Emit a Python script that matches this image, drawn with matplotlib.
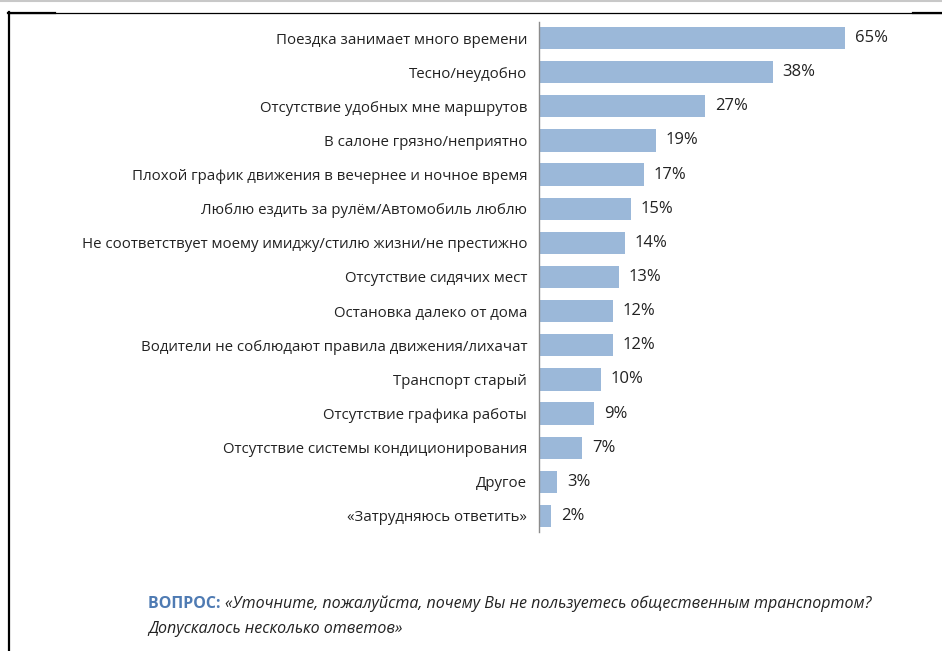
import matplotlib
matplotlib.use("Agg")
import matplotlib.pyplot as plt
from matplotlib.lines import Line2D

# ---- Data ----
reasons = [
    "Поездка занимает много времени",
    "Тесно/неудобно",
    "Отсутствие удобных мне маршрутов",
    "В салоне грязно/неприятно",
    "Плохой график движения в вечернее и ночное время",
    "Люблю ездить за рулём/Автомобиль люблю",
    "Не соответствует моему имиджу/стилю жизни/не престижно",
    "Отсутствие сидячих мест",
    "Остановка далеко от дома",
    "Водители не соблюдают правила движения/лихачат",
    "Транспорт старый",
    "Отсутствие графика работы",
    "Отсутствие системы кондиционирования",
    "Другое",
    "«Затрудняюсь ответить»",
]
shares = [65, 38, 27, 19, 17, 15, 14, 13, 12, 12, 10, 9, 7, 3, 2]
value_labels = [f"{v}%" for v in shares]

question_head = "ВОПРОС:"
question_body = "«Уточните, пожалуйста, почему Вы не пользуетесь общественным транспортом?"
question_tail = "Допускалось несколько ответов»"

BAR_COLOR = "#9bb8d9"
TEXT_COLOR = "#222222"
HEAD_COLOR = "#4f7bb3"
FONT = ["Open Sans", "DejaVu Sans"]

W, H = 942, 651
fig = plt.figure(figsize=(W / 100, H / 100), dpi=100)
fig.patch.set_facecolor("white")

# axes spans from the baseline to the (shortened) end of the longest bar
ax = fig.add_axes([539 / W, 1 - 532 / H, (845 - 539) / W, (532 - 22) / H])
ax.set_facecolor("none")

ypos = list(range(len(reasons)))
ax.barh(ypos, shares, height=0.65, color=BAR_COLOR, edgecolor="none")
ax.set_xlim(0, 49.75)
ax.set_ylim(len(reasons) - 0.53, -0.47)

for s in ["top", "right", "bottom"]:
    ax.spines[s].set_visible(False)
ax.spines["left"].set_color("#8c8c8c")
ax.spines["left"].set_linewidth(1.0)
ax.set_xticks([])
ax.set_yticks(ypos)
ax.set_yticklabels(reasons, fontsize=10.8, color=TEXT_COLOR, family=FONT)
ax.tick_params(axis="y", length=0, pad=8.6)

xmax = ax.get_xlim()[1]
for y, v, lab in zip(ypos, shares, value_labels):
    ax.annotate(lab, xy=(min(v, xmax), y), xytext=(7, 0), textcoords="offset points",
                va="center", ha="left", fontsize=12, color=TEXT_COLOR,
                family=FONT, annotation_clip=False)

# footnote with the survey question
t = fig.text(148 / W, 1 - 604 / H, question_head + " ", fontsize=11.5, fontweight="bold",
             color=HEAD_COLOR, family=FONT, va="center", ha="left")
fig.canvas.draw()
bb = t.get_window_extent()
fig.text(bb.x1 / W, 1 - 604 / H, question_body, fontsize=11.5, style="italic",
         color=TEXT_COLOR, family=FONT, va="center", ha="left")
fig.text(148 / W, 1 - 629 / H, question_tail, fontsize=11.5, style="italic",
         color=TEXT_COLOR, family=FONT, va="center", ha="left")

# page frame lines
def px_line(x0, y0, x1, y1, **kw):
    fig.add_artist(Line2D([x0 / W, x1 / W], [1 - y0 / H, 1 - y1 / H],
                          transform=fig.transFigure, **kw))

px_line(0, 0.5, W, 0.5, color="#c8c8c8", lw=1.5)
px_line(8, 12.5, W, 12.5, color="black", lw=0.9)
px_line(8, 12.5, 55, 12.5, color="black", lw=1.6)
px_line(913, 12.5, W, 12.5, color="black", lw=1.6)
px_line(8.5, 12, 8.5, H, color="black", lw=1.6)

fig.savefig("out.png", dpi=100, facecolor="white")
